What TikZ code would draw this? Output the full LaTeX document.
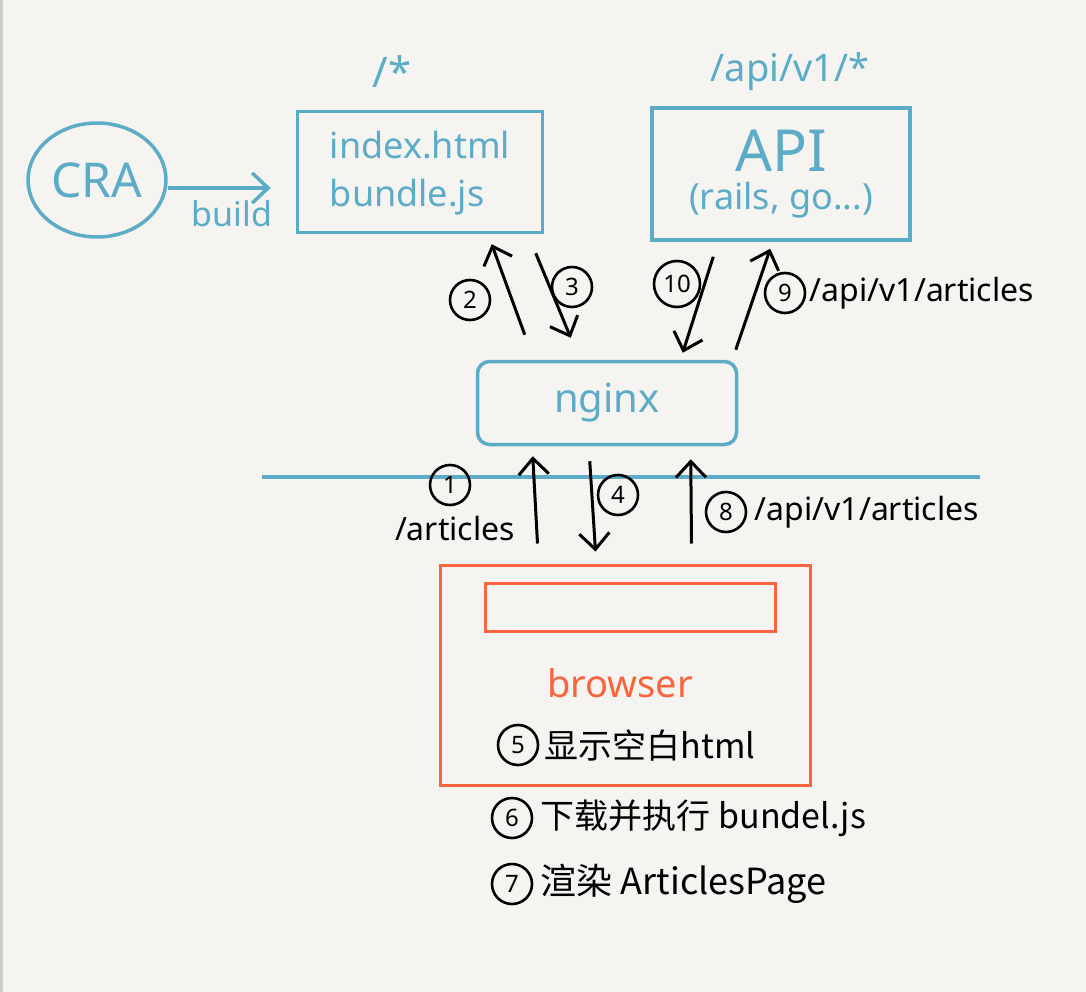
\documentclass[tikz,border=0pt]{standalone}
\usepackage{fontspec}
\setmainfont{Noto Sans}
\newfontfamily\cjk{Noto Sans CJK SC}
\usetikzlibrary{positioning,arrows.meta,shapes.geometric}
\definecolor{paper}{RGB}{245,244,240}
\definecolor{sky}{RGB}{92,172,200}
\definecolor{redorange}{RGB}{250,100,62}
\begin{document}
\begin{tikzpicture}[x=1pt, y=-1pt,
  >={Straight Barb[length=16pt,width=30pt]},
  box/.style={draw=sky, line width=3.5pt, text=sky, align=left},
  flow/.style={->, line width=3pt},
  num/.style={circle, draw, line width=2.6pt, inner sep=0pt, minimum size=40pt, font=\fontsize{24}{24}\selectfont},
  note/.style={font=\fontsize{32}{32}\selectfont}]
\fill[paper] (0,0) rectangle (1086,992);
\useasboundingbox (0,0) rectangle (1086,992);
\draw[black!20, line width=3pt] (1,0) -- (1,992);
% top row
\node[box, ellipse, minimum width=132pt, minimum height=114pt, font=\fontsize{48}{48}\selectfont] (cra) at (97,180) {CRA};
\node[box, minimum width=245pt, minimum height=121pt, font=\fontsize{36}{48}\selectfont, text depth=6pt] (index) at (420,172) {index.html\\bundle.js};
\node[box, align=center, minimum width=258pt, minimum height=132pt] (api) at (781,174)
  {{\fontsize{58}{58}\selectfont API}\\[10pt]{\fontsize{36}{36}\selectfont (rails, go...)}};
\node[text=sky, font=\fontsize{42}{42}\selectfont] (root) at (392,72) {/*};
\node[text=sky, font=\fontsize{38}{38}\selectfont] (apiroot) at (790,72) {/api/v1/*};
\draw[->, sky, line width=3.5pt, shorten >=25pt] ([yshift=-8pt]cra.east) -- ([yshift=-8pt]cra.east -| index.west)
  node[midway, below=8pt, font=\fontsize{34}{34}\selectfont] (build) {build};
% nginx
\node[box, rounded corners=12pt, minimum width=259pt, minimum height=83pt, font=\fontsize{40}{40}\selectfont] (nginx) at (607,403) {nginx};
\draw[flow] ([shift={(49,-25)}]nginx.north west) -- ([shift={(196,10)}]index.south west);
\draw[flow] ([shift={(240,19)}]index.south west) -- ([shift={(95,-22)}]nginx.north west);
\draw[flow] ([shift={(63,15)}]api.south west) -- ([shift={(207,-7)}]nginx.north west);
\draw[flow] ([shift={(260,-10)}]nginx.north west) -- ([shift={(120,7)}]api.south west);
\node[num] (n2) at (470,300) {2};
\node[num] (n3) at (572,287) {3};
\node[num, minimum size=46pt] (n10) at (677,284) {10};
\node[num] (n9) at (785,293) {9};
\node[note, right=0pt of n9] (path9) {/api/v1/articles};
% network line
\draw[sky, line width=3.5pt] (262,477) -- (980,477);
% browser
\node[draw=redorange, line width=3pt, minimum width=370pt, minimum height=220pt] (browser) at (625,675) {};
\node[draw=redorange, line width=3pt, minimum width=290pt, minimum height=48pt] (bar) at (630,607) {};
\node[text=redorange, font=\fontsize{38}{38}\selectfont] (brlabel) at (620,683) {browser};
\draw[flow] ([shift={(99,-20)}]browser.north west) -- ([shift={(57,10)}]nginx.south west);
\draw[flow] ([shift={(114,15)}]nginx.south west) -- ([shift={(157,-12)}]browser.north west);
\draw[flow] ([shift={(253,-20)}]browser.north west) -- ([shift={(215,13)}]nginx.south west);
\node[num] (n1) at (450,485) {1};
\node[note] (path1) at (455,528) {/articles};
\node[num] (n4) at (618,495) {4};
\node[num] (n8) at (726,512) {8};
\node[note, right=4pt of n8] (path8) {/api/v1/articles};
% steps
\node[num] (n5) at (518,745) {5};
\node[note, right=2pt of n5, font=\cjk\fontsize{34}{34}\selectfont] (step5) {显示空白html};
\node[num] (n6) at (512,818) {6};
\node[note, right=4pt of n6, font=\cjk\fontsize{34}{34}\selectfont] (step6) {下载并执行 bundel.js};
\node[num] (n7) at (512,884) {7};
\node[note, right=4pt of n7, font=\cjk\fontsize{36}{36}\selectfont] (step7) {渲染 ArticlesPage};
\end{tikzpicture}
\end{document}
